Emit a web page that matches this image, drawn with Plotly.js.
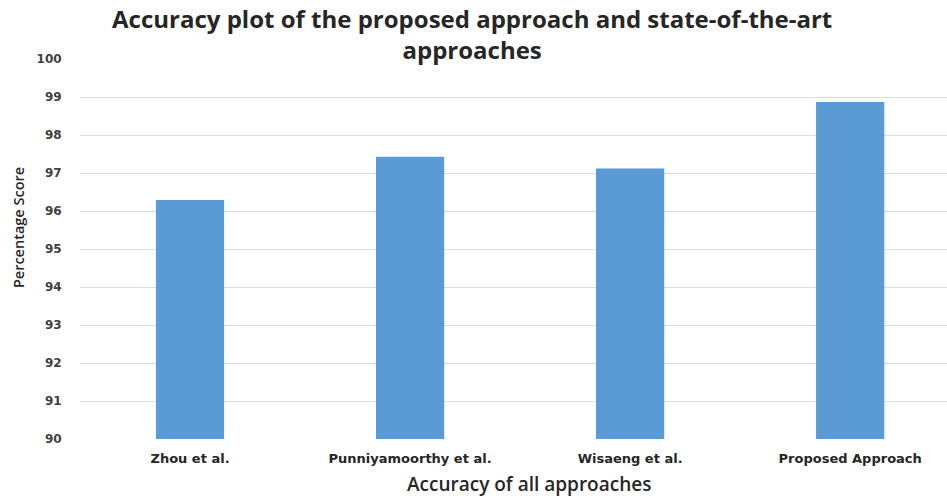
<!DOCTYPE html>
<html>
<head>
<meta charset="utf-8">
<script src="https://cdn.plot.ly/plotly-3.0.1.min.js"></script>
<style>html,body{margin:0;padding:0;background:#fff;}#chart{width:947px;height:498px;}</style>
</head>
<body>
<div id="chart"></div>
<script>
const categories = ["Zhou et al.", "Punniyamoorthy et al.", "Wisaeng et al.", "Proposed Approach"];
const accuracy = [96.29, 97.43, 97.12, 98.87];
const yTicks = [90, 91, 92, 93, 94, 95, 96, 97, 98, 99, 100];
const titleText = 'Accuracy plot of the proposed approach and state-of-the-art<br>approaches';
const xTitle = 'Accuracy of all approaches';
const yTitle = 'Percentage Score';

const trace = {
  type: 'bar',
  x: categories,
  y: accuracy,
  width: 0.31,
  marker: {color: '#5b9bd5', line: {width: 0}}
};

const layout = {
  width: 947, height: 498,
  margin: {l: 80, r: 0, t: 59, b: 59},
  paper_bgcolor: '#ffffff', plot_bgcolor: '#ffffff',
  showlegend: false,
  xaxis: {
    type: 'category',
    range: [-0.5, 3.44],
    showgrid: false, zeroline: false, showline: false,
    ticks: 'outside', ticklen: 7, tickcolor: 'rgba(0,0,0,0)',
    tickfont: {family: 'DejaVu Sans', size: 13, color: '#262626', weight: 'bold'}
  },
  yaxis: {
    range: [90, 100],
    tickvals: yTicks,
    ticktext: yTicks.map(String),
    showgrid: true, gridcolor: '#dcdcdc', gridwidth: 1,
    zeroline: false, showline: false,
    ticks: 'outside', ticklen: 15, tickcolor: 'rgba(0,0,0,0)',
    tickfont: {family: 'DejaVu Sans', size: 12, color: '#404040', weight: 'bold'}
  },
  annotations: [
    {text: '<b>' + titleText + '</b>', xref: 'paper', yref: 'paper', x: 0.452, y: 1.067,
     xanchor: 'center', yanchor: 'middle', showarrow: false,
     font: {family: 'Open Sans', size: 24, color: '#262626'}},
    {text: xTitle, xref: 'paper', yref: 'paper', x: 0.518, y: -0.118,
     xanchor: 'center', yanchor: 'middle', showarrow: false,
     font: {family: 'Open Sans', size: 19, color: '#262626', weight: 600}},
    {text: yTitle, xref: 'paper', yref: 'paper', x: -0.0715, y: 0.555, textangle: -90,
     xanchor: 'center', yanchor: 'middle', showarrow: false,
     font: {family: 'Open Sans', size: 14.5, color: '#262626', weight: 600}}
  ]
};

Plotly.newPlot('chart', [trace], layout, {displayModeBar: false, staticPlot: true});
</script>
</body>
</html>
